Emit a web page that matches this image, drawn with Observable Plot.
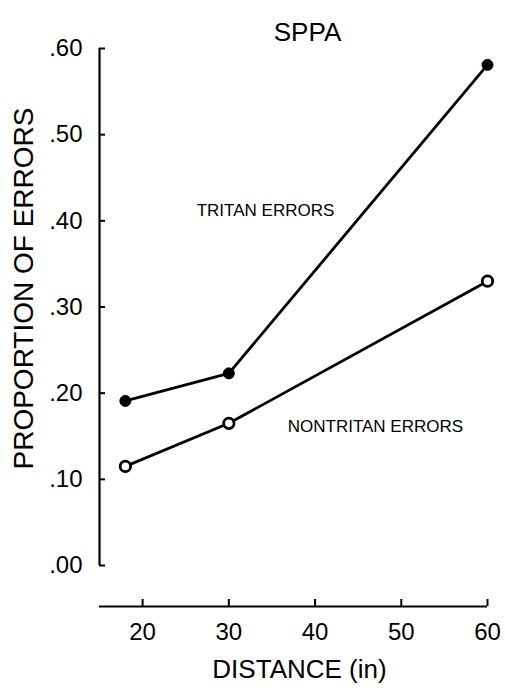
<!DOCTYPE html>
<html>
<head>
<meta charset="utf-8">
<script src="https://cdn.jsdelivr.net/npm/d3@7"></script>
<script src="https://cdn.jsdelivr.net/npm/@observablehq/plot@0.6"></script>
<style>
  html, body { margin: 0; padding: 0; background: #fff; }
</style>
</head>
<body>
<div id="chart"></div>
<script>
const distances = [18, 30, 60];
const tritan = [0.191, 0.223, 0.581];
const nontritan = [0.115, 0.165, 0.33];
const xTicks = [20, 30, 40, 50, 60];
const yTicks = [0, 0.1, 0.2, 0.3, 0.4, 0.5, 0.6];
const title = "SPPA";
const xLabel = "DISTANCE (in)";
const yLabel = "PROPORTION OF ERRORS";
const seriesLabels = [
  {name: "TRITAN ERRORS", x: 34.25, y: 0.412},
  {name: "NONTRITAN ERRORS", x: 47.0, y: 0.161}
];

const tri = distances.map((d, i) => ({x: d, y: tritan[i]}));
const non = distances.map((d, i) => ({x: d, y: nontritan[i]}));

const font = "Liberation Sans, Arial, Helvetica, sans-serif";

const chart = Plot.plot({
  width: 505,
  height: 691,
  marginLeft: 99,
  marginRight: 18,
  marginTop: 48,
  marginBottom: 126,
  style: {fontFamily: font, background: "#fff", color: "#000"},
  x: {domain: [15, 60]},
  y: {domain: [0, 0.6]},
  marks: [
    Plot.ruleX([15], {stroke: "#000", strokeWidth: 2.2}),
    Plot.axisY({
      ticks: yTicks,
      tickFormat: d => d.toFixed(2).replace(/^0/, ""),
      tickSize: -6,
      tickPadding: 23,
      strokeWidth: 2,
      fontSize: 24,
      label: null
    }),
    Plot.ruleY([0], {dy: 41, stroke: "#000", strokeWidth: 2}),
    Plot.axisX({
      ticks: xTicks,
      tickSize: -7,
      tickPadding: 23,
      dy: 41,
      strokeWidth: 2,
      fontSize: 24,
      label: null
    }),
    Plot.line(tri, {x: "x", y: "y", stroke: "#000", strokeWidth: 2.8}),
    Plot.line(non, {x: "x", y: "y", stroke: "#000", strokeWidth: 2.8}),
    Plot.dot(tri, {x: "x", y: "y", r: 5.5, fill: "#000", stroke: "#000", strokeWidth: 1}),
    Plot.dot(non, {x: "x", y: "y", r: 5.2, fill: "#fff", stroke: "#000", strokeWidth: 2.8}),
    Plot.text(seriesLabels, {x: "x", y: "y", text: "name", fontSize: 17, fill: "#000"}),
    Plot.text([title], {frameAnchor: "top", dx: 14, dy: -25.5, fontSize: 26, fill: "#000"}),
    Plot.text([xLabel], {frameAnchor: "bottom", dx: 6, dy: 112, fontSize: 26, fill: "#000"}),
    Plot.text([yLabel], {frameAnchor: "left", textAnchor: "middle", dx: -75, dy: -18.5, rotate: -90, fontSize: 28, fill: "#000"})
  ]
});
document.getElementById("chart").append(chart);
</script>
</body>
</html>
